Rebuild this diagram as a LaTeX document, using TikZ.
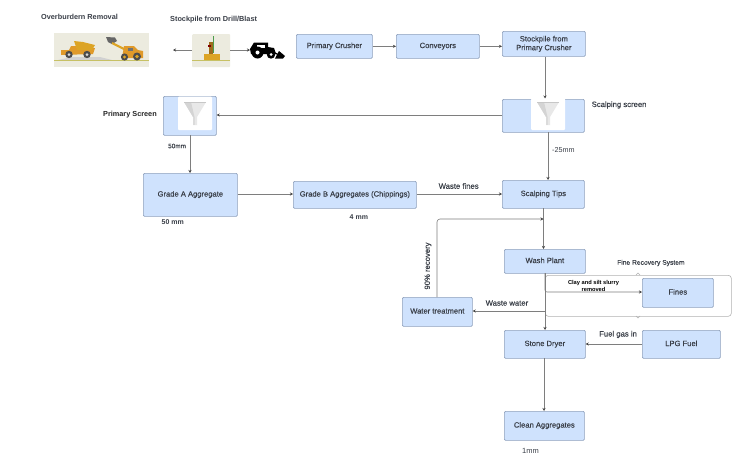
\documentclass[tikz,border=0pt]{standalone}
\usepackage{fontspec}
\setmainfont{Liberation Sans}
\newfontfamily\medfont[FakeBold=0.25]{Liberation Sans}
\usetikzlibrary{arrows.meta}
\definecolor{boxfill}{HTML}{CFE2FD}
\definecolor{boxline}{HTML}{8EA0BC}
\definecolor{conn}{HTML}{7E7E7E}
\definecolor{tip}{HTML}{444444}
\definecolor{txt}{HTML}{3A3F48}
\definecolor{scene}{HTML}{ECEBDF}
\definecolor{ochre}{HTML}{DCA425}
\definecolor{ambr}{HTML}{E09A2A}
\tikzset{
 proc/.style={draw=boxline,fill=boxfill,rounded corners=1.2pt,line width=.7pt,inner sep=0pt,align=center,text=txt,font=\medfont\fontsize{7.6}{8.8}\selectfont},
 procl/.style={proc,text height=5pt,text depth=1.6pt},
 conx/.style={draw=conn,line width=.6pt,-{Stealth[length=3pt,width=3pt,color=tip]}},
 lbl/.style={inner sep=0pt,text=txt,font=\medfont\fontsize{7.7}{9}\selectfont,align=center},
 blbl/.style={lbl,font=\bfseries\fontsize{7.3}{8.6}\selectfont}
}
\newcommand{\pbox}[6]{\node[procl,minimum width=#4pt-#2pt,minimum height=#5pt-#3pt,anchor=north west] (#1) at (#2,#3) {#6};}
\newcommand{\funnel}[2]{%
 \begin{scope}[shift={(#1,#2)}]
 \fill[black!9] (-11,0) -- (11,0) -- (2,15) -- (2,23) -- (-2,23) -- (-2,15) -- cycle;
 \fill[black!17] (-11,0) -- (-4,0) -- (-.5,15) -- (-2,15) -- cycle;
 \fill[black!14] (-2,15) -- (0,15) -- (0,23) -- (-2,23) -- cycle;
 \draw[black!22,line width=.4pt] (-11,0) -- (11,0);
 \end{scope}}
\begin{document}
\begin{tikzpicture}[x=1pt,y=-1pt]
\useasboundingbox (0,0) rectangle (749,461);
\fill[white] (0,0) rectangle (749,461);

% picture panels
\node[fill=scene,minimum width=95pt,minimum height=34pt,inner sep=0pt,anchor=north west] (over) at (54,33) {};
\node[fill=scene,rounded corners=1pt,minimum width=38pt,minimum height=33pt,inner sep=0pt,anchor=north west] (drill) at (192,34) {};
\coordinate (dl) at (173,50);
\coordinate (dr) at (250,50);

% overburden scene
\fill[black!18] (58,60) -- (72,57) -- (100,57) -- (112,60) -- cycle;
\draw[olive!50,line width=.5pt] (54,60.5) -- (149,60.5);
\fill[ambr] (61,50) -- (69,50) -- (71,46) -- (76,46) -- (78,50) -- (95,48) -- (93,54) -- (61,55) -- cycle;
\fill[ochre] (74,41) -- (83,42) -- (95,45) -- (92,50) -- (77,50) -- cycle;
\fill[black!70] (69,54.5) circle (3.7);
\fill[black!70] (87,54.5) circle (3.7);
\fill[black!15] (69,54.5) circle (1.5);
\fill[black!15] (87,54.5) circle (1.5);
\fill[black!60] (106,37) -- (115,37.5) -- (117,41) -- (112,44) -- (108,42) -- cycle;
\draw[ochre,line width=2.2pt] (112,43) -- (126,50);
\fill[ambr] (124,46) -- (134,46) -- (138,50) -- (143,51) -- (143,58) -- (122,58) -- cycle;
\fill[black!55] (128,47.5) rectangle (133,50.5);
\fill[black!70] (124.5,57) circle (3.6);
\fill[black!70] (137,56.5) circle (4);
\fill[ochre] (124.5,57) circle (1.6);
\fill[ochre] (137,56.5) circle (1.8);

% drill scene
\draw[olive!50,line width=.5pt] (192,60.5) -- (230,60.5);
\fill[ochre] (203.5,54) rectangle (220,60);
\fill[ambr!70!black] (209,42) rectangle (212.5,54);
\draw[green!45!black!70,line width=1.3pt] (213.5,36) -- (213.5,53);
\fill[red!50!black] (207.5,45) rectangle (210.5,47);

% loader
\fill[black] (254,42.5) -- (268,42.5) -- (268,47) -- (274,48) -- (276,54) -- (251,54) -- (250,49) -- cycle;
\fill[white] (257,44.5) rectangle (265,48);
\fill[black] (257.5,52.5) circle (6);
\fill[black] (271,54.5) circle (4.2);
\fill[white] (257.5,52.5) circle (2);
\fill[white] (271,54.5) circle (1.5);
\draw[black,line width=1.2pt] (273,52) -- (279,55);
\fill[black] (279,51) -- (285,56) -- (283,58.5) -- (275,58.5) -- cycle;

% process boxes
\pbox{crusher}{296}{34}{372}{58}{Primary Crusher}
\pbox{conv}{396}{34}{479}{58}{Conveyors}
\node[proc,minimum width=83pt,minimum height=25pt,anchor=north west] (stock) at (502,31) {\raisebox{0pt}{}Stockpile from\\Primary Crusher};
\pbox{sscreen}{502}{99}{584}{132}{}
\pbox{pscreen}{163}{96}{216}{135}{}
\pbox{gradeA}{143}{173}{237}{216}{Grade A Aggregate}
\pbox{gradeB}{293}{181}{416}{208}{Grade B Aggregates (Chippings)}
\pbox{tips}{502}{180}{584}{208}{Scalping Tips}
\pbox{wash}{504}{249}{585}{273}{Wash Plant}
\pbox{fines}{642}{278}{713}{307}{Fines}
\pbox{water}{402}{297}{472}{326}{Water treatment}
\pbox{dryer}{504}{330}{585}{358}{Stone Dryer}
\pbox{lpg}{642}{330}{720}{358}{LPG Fuel}
\pbox{clean}{504}{411}{584}{440}{Clean Aggregates}

% funnel panels
\fill[white,rounded corners=1pt] (531,98.5) -- (565,98.5) -- (565,130) -- (531,130) -- cycle;
\funnel{548}{102}
\fill[white,rounded corners=1pt] (178,96.5) -- (212,96.5) -- (212,130) -- (178,130) -- cycle;
\funnel{195}{102}

% fine recovery outline
\node[draw=black!30,rounded corners=3pt,line width=.6pt,minimum width=186pt,minimum height=41pt,inner sep=0pt,anchor=north west] (frs) at (545,275) {};
\draw[draw=white,line width=1.2pt] (545,279) -- (545,312);
\draw[black!30,line width=.5pt] (636,275) -- (638,273) -- (640,275);
\draw[black!30,line width=.5pt] (636,316) -- (638,318) -- (640,316);

% connectors
\draw[conx] (drill.west|-dl) -- (dl);
\draw[conx] (drill.east|-dr) -- (dr);
\draw[conx] (crusher) -- (conv);
\draw[conx] (conv.east) -- (stock.west|-conv.east);
\draw[conx] (stock.south-|545,0) -- (545,98.5);
\draw[conx] (sscreen.west|-0,115) -- (pscreen.east|-0,115);
\draw[conx] (190,135) -- (gradeA.north-|190,0);
\draw[conx] (gradeA.east|-0,194) -- (gradeB.west|-0,194);
\draw[conx] (gradeB.east|-0,194) -- (tips.west|-0,194);
\draw[conx] (548,132) -- (tips.north-|548,0);
\draw[conx] (543.5,208) -- (wash.north-|543.5,0);
\draw[conx,rounded corners=3pt] (water.north-|437,0) -- (437,219) -- (543.5,219);
\draw[conx,rounded corners=2pt] (545,273) -- (545,292) -- (fines.west|-0,292);
\draw[conx] (545,273) -- (dryer.north-|545,0);
\draw[conx] (545,311) -- (water.east|-0,311);
\draw[conx] (lpg.west|-0,344) -- (dryer.east|-0,344);
\draw[conx] (544,358) -- (clean.north-|544,0);

% labels
\node[blbl,anchor=west] (t1) at (41,16.5) {Overburdern Removal};
\node[blbl,anchor=west] (t2) at (170,19.5) {Stockpile from Drill/Blast};
\node[blbl,anchor=west,text=black!85] (t3) at (103,114.5) {Primary Screen};
\node[lbl,anchor=west] (t4) at (591.5,105) {Scalping screen};
\node[lbl,anchor=west,font=\medfont\fontsize{6.4}{7.6}\selectfont] (t5) at (168,146) {50mm};
\node[lbl,anchor=west,font=\fontsize{7.2}{8}\selectfont] (t6) at (552,150.5) {-25mm};
\node[blbl,anchor=west,font=\bfseries\fontsize{7}{8}\selectfont] (t7) at (161.5,222) {50 mm};
\node[blbl,anchor=west,font=\bfseries\fontsize{7}{8}\selectfont] (t8) at (349.5,217) {4 mm};
\node[lbl,anchor=west] (t9) at (438.5,186) {Waste fines};
\node[lbl,anchor=center,rotate=90] (t10) at (428,266) {90\% recovery};
\node[lbl,anchor=west,font=\medfont\fontsize{6.7}{7.6}\selectfont] (t11) at (617,263) {Fine Recovery System};
\node[blbl,font=\bfseries\fontsize{5.7}{7}\selectfont,text=black] (t12) at (593.5,286) {Clay and silt slurry\\removed};
\node[lbl,anchor=west] (t13) at (485.5,303) {Waste water};
\node[lbl,anchor=west] (t14) at (599,334.5) {Fuel gas in};
\node[lbl,anchor=west,font=\fontsize{7.5}{8.5}\selectfont] (t15) at (522,451) {1mm};
\end{tikzpicture}
\end{document}
